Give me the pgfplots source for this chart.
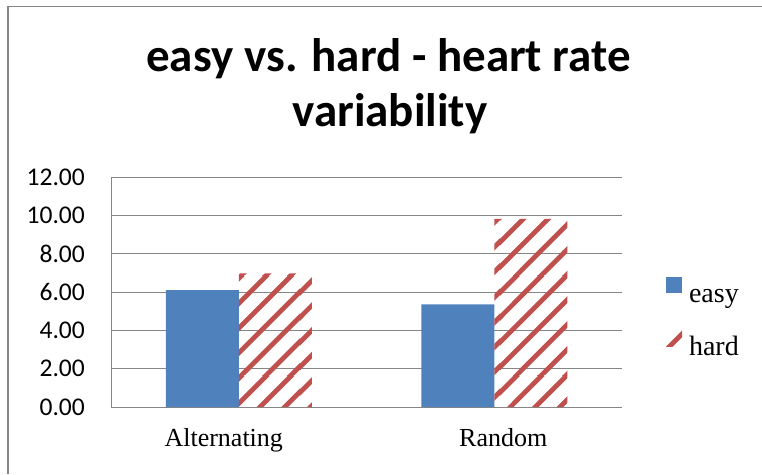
\documentclass[border=0pt]{standalone}
\usepackage{pgfplots}
\pgfplotsset{compat=1.18}
\usetikzlibrary{patterns.meta}
\usepackage{fontspec}
\setmainfont{Liberation Serif}
\newfontfamily\carlito{Carlito}
\definecolor{easyblue}{HTML}{4F81BD}
\definecolor{hardred}{HTML}{C0504D}
\definecolor{gridgray}{HTML}{868686}
\pgfdeclarepattern{
  name=widediag,
  type=uncolored,
  bottom left={\pgfpoint{0pt}{0pt}},
  top right={\pgfpoint{100pt}{100pt}},
  tile size={\pgfpoint{100pt}{100pt}},
  code={
    \pgfsetlinewidth{4.8pt}
    \foreach \c in {-108,-83,-58,-33,-8,17,42,67,92,117}{
      \pgfpathmoveto{\pgfpoint{\c pt - 5pt}{-5pt}}
      \pgfpathlineto{\pgfpoint{\c pt + 105pt}{105pt}}
    }
    \pgfusepath{stroke}
  }
}
\pgfplotsset{sqlegend/.style={legend image code/.code={\path[##1] (0pt,2pt) rectangle (16pt,18pt);}}}
\begin{document}
\begin{tikzpicture}
\path[use as bounding box] (0pt,0pt) rectangle (762pt,474pt);
\draw[gridgray, line width=1.6pt] (7.8pt,0pt) -- (7.8pt,467.5pt) -- (762pt,467.5pt);
\node[anchor=base, inner sep=0pt, font=\carlito\bfseries\fontsize{47}{56}\selectfont] at (388.5pt,402pt) {easy vs. hard - heart rate};
\node[anchor=base, inner sep=0pt, font=\carlito\bfseries\fontsize{47}{56}\selectfont] at (390pt,347pt) {variability};
\begin{axis}[
  scale only axis, width=511pt, height=230pt,
  at={(111pt,67pt)}, anchor=south west,
  ybar, bar width=73pt, ybar=0pt,
  xmin=-0.5, xmax=1.5, ymin=0, ymax=12,
  xtick={0,1},
  xticklabels={{Alternating\hspace*{30pt}},{\hspace*{18pt}Random}},
  x tick label style={anchor=base, yshift=-39pt, inner sep=0pt, font=\fontsize{26}{30}\selectfont},
  ytick={0,2,4,6,8,10,12},
  yticklabel={\pgfmathprintnumber[fixed,fixed zerofill,precision=2,assume math mode=true]{\tick}},
  y tick label style={anchor=east, xshift=-26pt, inner sep=0pt, font=\carlito\fontsize{25.5}{30}\selectfont},
  axis x line*=bottom, axis y line*=left,
  axis line style={gridgray, line width=1pt},
  major tick length=0pt,
  ymajorgrids, grid style={gridgray, line width=1pt},
  legend style={at={(1.0861,0.5652)}, anchor=north west, draw=none, inner sep=0pt, outer sep=0pt,
    row sep=22pt, column sep=7pt,
    nodes={inner sep=0pt, text height=20pt, text depth=6pt, font=\fontsize{28}{34}\selectfont}},
  legend cell align=left,
]
\addplot[fill=easyblue, draw=none, sqlegend]
  coordinates {(0,6.10) (1,5.36)};
\addplot[pattern=widediag, pattern color=hardred, draw=none, sqlegend]
  coordinates {(0,6.97) (1,9.81)};
\legend{easy, hard}
\end{axis}
\end{tikzpicture}
\end{document}
